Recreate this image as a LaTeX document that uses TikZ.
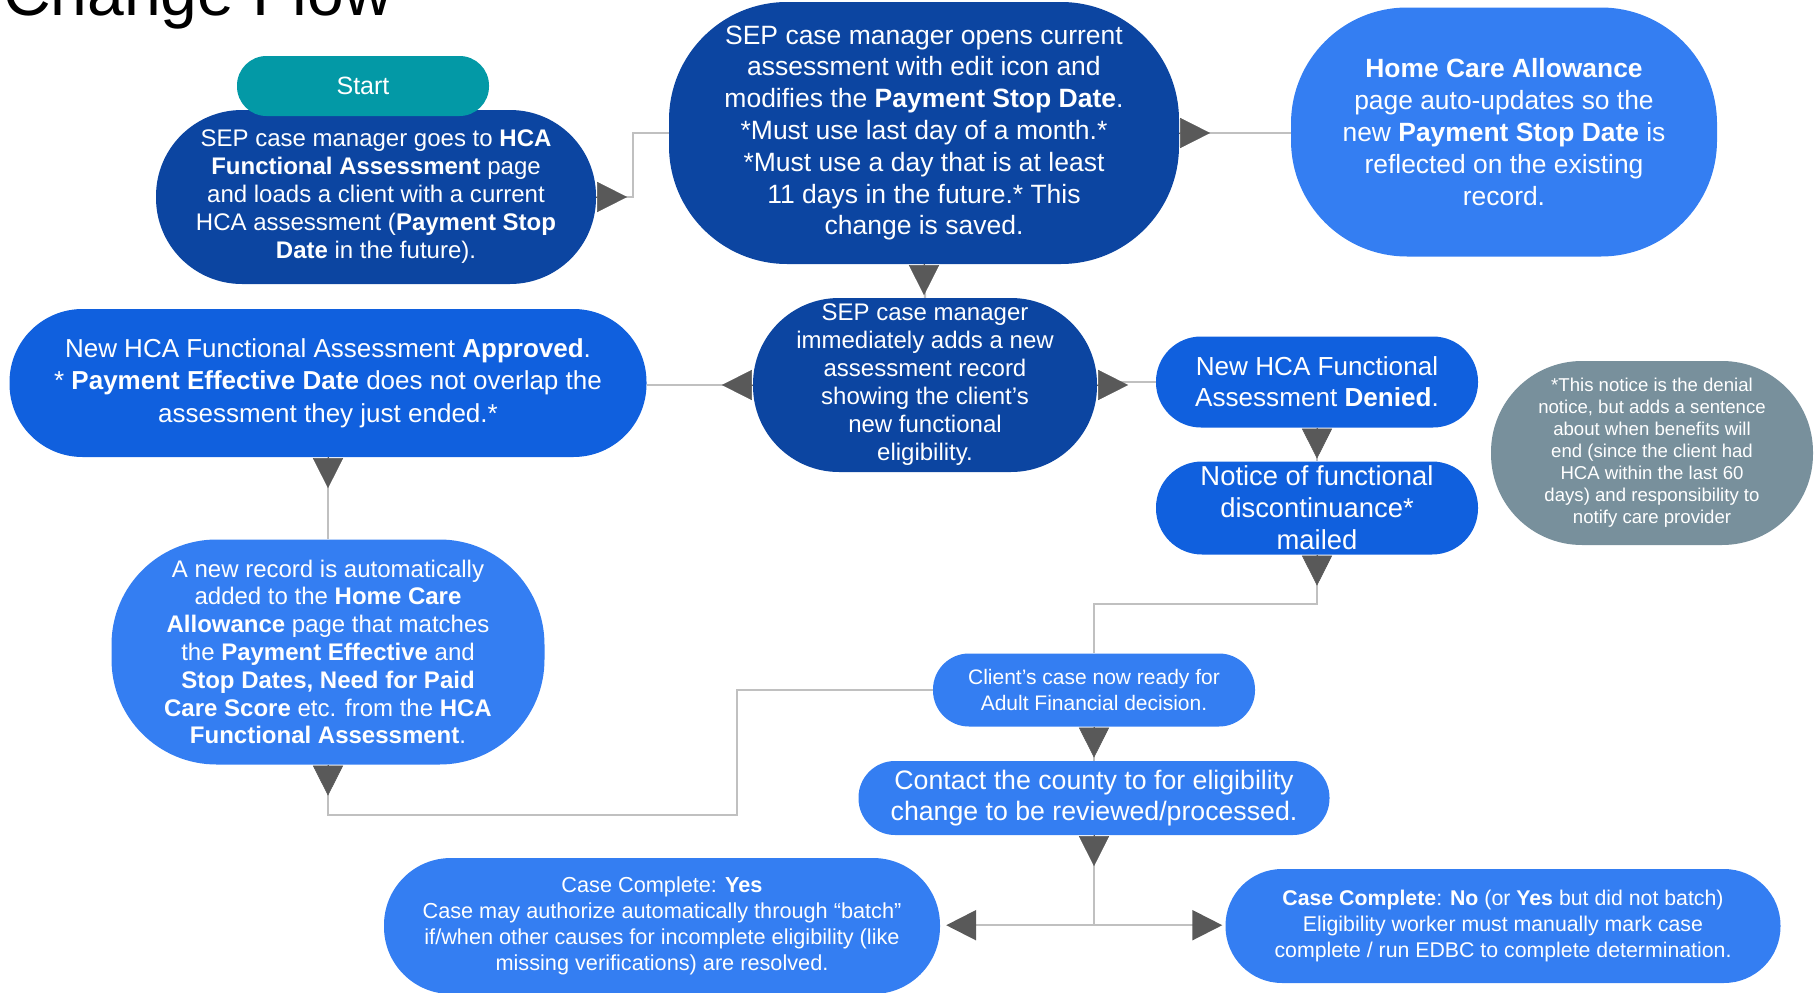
\documentclass[tikz,border=0pt]{standalone}
\usepackage{fontspec}
\setmainfont{Liberation Sans}
\usetikzlibrary{arrows.meta}

\definecolor{darkblue}{RGB}{12,69,161}
\definecolor{midblue}{RGB}{16,96,222}
\definecolor{lightblue}{RGB}{52,126,242}
\definecolor{startteal}{RGB}{3,153,166}
\definecolor{notegrey}{RGB}{120,144,156}
\definecolor{linegrey}{RGB}{192,192,192}
\definecolor{tipgrey}{RGB}{89,89,89}

\newcommand\fs[2]{\fontsize{#1}{#2}\selectfont}

\tikzset{
  flow/.style={inner sep=0pt, text=white, align=center},
  link/.style={draw=linegrey, line width=2.2pt},
  tipmark/.style={draw=tipgrey, line width=0.5pt, -{Triangle[length=30pt,width=30pt]}},
  endtip/.style={-{Triangle[length=30pt,width=30pt,color=tipgrey]}},
}

\begin{document}
\begin{tikzpicture}[x=1pt,y=-1pt]
\useasboundingbox (0,0) rectangle (1816,993);

% title
\node[anchor=base west, inner sep=0pt, font=\fs{66}{70}] (title) at (3,15) {Change Flow};

% process steps
\node[flow, fill=darkblue, minimum width=440pt, minimum height=174pt, rounded corners=86pt, font=\fs{24}{28}] (n1) at (376,197)
  {SEP case manager goes to \textbf{HCA}\\
   \textbf{Functional Assessment} page\\
   and loads a client with a current\\
   HCA assessment (\textbf{Payment Stop}\\
   \textbf{Date} in the future).};

\node[flow, fill=startteal, minimum width=252pt, minimum height=60pt, rounded corners=29.5pt, font=\fs{25}{28}] (start) at (363,86) {Start};

\node[flow, fill=darkblue, minimum width=510pt, minimum height=262pt, rounded corners=118pt, font=\fs{26.5}{31.8}] (n2) at (924,133)
  {SEP case manager opens current\\
   assessment with edit icon and\\
   modifies the \textbf{Payment Stop Date}.\\
   *Must use last day of a month.*\\
   *Must use a day that is at least\\
   11 days in the future.* This\\
   change is saved.};

\node[flow, fill=lightblue, minimum width=426pt, minimum height=249pt, rounded corners=116pt, font=\fs{26.4}{31.8}] (n3) at (1504,132)
  {\textbf{Home Care Allowance}\\
   page auto-updates so the\\
   new \textbf{Payment Stop Date} is\\
   reflected on the existing\\
   record.};

\node[flow, fill=darkblue, minimum width=344pt, minimum height=174pt, rounded corners=86pt, font=\fs{24}{28}] (n4) at (925,385)
  {SEP case manager\\
   immediately adds a new\\
   assessment record\\
   showing the client’s\\
   new functional\\
   eligibility.};

\node[flow, fill=midblue, minimum width=637pt, minimum height=148pt, rounded corners=73pt, font=\fs{26}{32.4}] (n5) at (328,383)
  {New HCA Functional Assessment \textbf{Approved}.\\
   * \textbf{Payment Effective Date} does not overlap the\\
   assessment they just ended.*};

\node[flow, fill=midblue, minimum width=322pt, minimum height=91pt, rounded corners=45pt, font=\fs{26.1}{31.3}] (n6) at (1317,382)
  {New HCA Functional\\
   Assessment \textbf{Denied}.};

\node[flow, fill=midblue, minimum width=322pt, minimum height=93pt, rounded corners=46pt, font=\fs{27.4}{32}] (n7) at (1317,508)
  {Notice of functional\\
   discontinuance*\\
   mailed};

\node[flow, fill=notegrey, minimum width=322pt, minimum height=184pt, rounded corners=91pt, font=\fs{18.6}{22}] (n8) at (1652,453)
  {*This notice is the denial\\
   notice, but adds a sentence\\
   about when benefits will\\
   end (since the client had\\
   HCA within the last 60\\
   days) and responsibility to\\
   notify care provider};

\node[flow, fill=lightblue, minimum width=433pt, minimum height=225pt, rounded corners=105pt, font=\fs{24}{27.8}] (n9) at (328,652)
  {A new record is automatically\\
   added to the \textbf{Home Care}\\
   \textbf{Allowance} page that matches\\
   the \textbf{Payment Effective} and\\
   \textbf{Stop Dates, Need for Paid}\\
   \textbf{Care Score} etc. from the \textbf{HCA}\\
   \textbf{Functional Assessment}.};

\node[flow, fill=lightblue, minimum width=322pt, minimum height=73pt, rounded corners=36pt, font=\fs{21}{25.5}] (n10) at (1094,690)
  {Client’s case now ready for\\
   Adult Financial decision.};

\node[flow, fill=lightblue, minimum width=471pt, minimum height=74pt, rounded corners=36.5pt, font=\fs{26.7}{31.3}] (n11) at (1094,798)
  {Contact the county to for eligibility\\
   change to be reviewed/processed.};

\node[flow, fill=lightblue, minimum width=556pt, minimum height=136pt, rounded corners=67pt, font=\fs{21.7}{25.9}] (n12) at (662,926)
  {Case Complete: \textbf{Yes}\\
   Case may authorize automatically through “batch”\\
   if/when other causes for incomplete eligibility (like\\
   missing verifications) are resolved.};

\node[flow, fill=lightblue, minimum width=555pt, minimum height=114pt, rounded corners=56.5pt, font=\fs{21.3}{26}] (n13) at (1503,926)
  {\textbf{Case Complete}: \textbf{No} (or \textbf{Yes} but did not batch)\\
   Eligibility worker must manually mark case\\
   complete / run EDBC to complete determination.};

% connectors
\draw[link] (n1.east) -- ++(37,0) |- (n2.west);
\draw[link] (n2.east) -- (n2.east -| n3.west);
\draw[link] (n2.south) -- (n4.north);
\draw[link] (n4.west) -- (n4.west -| n5.east);
\draw[link] (n4.east) -- ++(16,0) |- (n6.west);
\draw[link] (n5.south) -- (n9.north);
\draw[link] (n6.south) -- (n7.north);
\draw[link] (n7.south) -- ++(0,49) -| (n10.north);
\draw[link] (n9.south) -- ++(0,50) -- ++(409,0) |- (n10.west);
\draw[link] (n10.south) -- (n11.north);
\draw[link] (n11.south) -- ++(0,90) coordinate (split);
\draw[link, endtip, shorten >=6pt] (split) -- (split -| n12.east);
\draw[link, endtip, shorten >=3pt] (split) -- (split -| n13.west);

% arrow heads at the leaving side
\draw[tipmark] (n1.east) -- ++(31,0);
\draw[tipmark] (n2.east) -- ++(31,0);
\draw[tipmark] (n2.south) -- ++(0,31);
\draw[tipmark] (n4.west) -- ++(-31,0);
\draw[tipmark] (n4.east) -- ++(31,0);
\draw[tipmark] (n5.south) -- ++(0,31);
\draw[tipmark] (n6.south) -- ++(0,31);
\draw[tipmark] (n7.south) -- ++(0,31);
\draw[tipmark] (n9.south) -- ++(0,31);
\draw[tipmark] (n10.south) -- ++(0,31);
\draw[tipmark] (n11.south) -- ++(0,31);
\end{tikzpicture}
\end{document}
